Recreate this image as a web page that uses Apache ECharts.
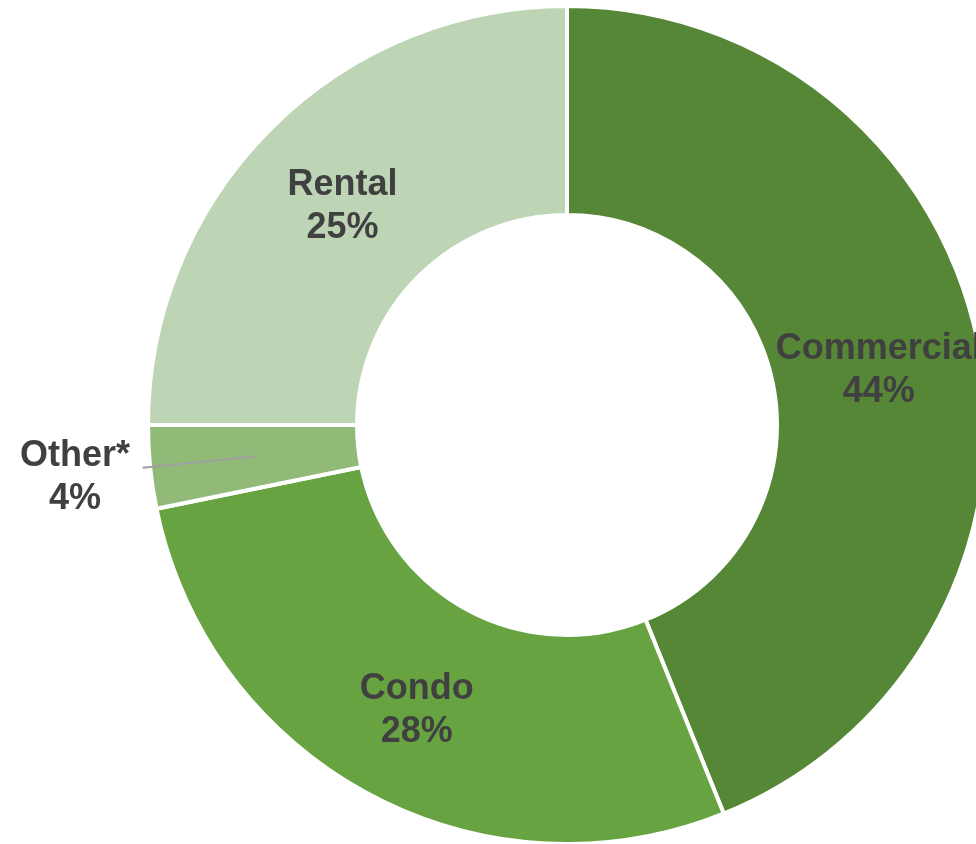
<!DOCTYPE html>
<html>
<head>
<meta charset="utf-8">
<script src="https://cdn.jsdelivr.net/npm/echarts@6/dist/echarts.min.js"></script>
<style>
html,body{margin:0;padding:0;background:#fff;}
#chart{width:976px;height:844px;}
</style>
</head>
<body>
<div id="chart"></div>
<script>
const categories = ['Commercial', 'Condo', 'Other*', 'Rental'];
const values = [43.9, 27.9, 3.2, 25.0];
const pctLabels = ['44%', '28%', '4%', '25%'];
const colors = ['#558737', '#68A342', '#91BA79', '#BDD5B4'];

const CX = 567, CY = 425, R_IN = 210, R_OUT = 419;
const R_MID = (R_IN + R_OUT) / 2;

const chart = echarts.init(document.getElementById('chart'), null, {renderer: 'canvas'});
const data = categories.map((c, i) => {
  const item = {name: c, value: values[i], itemStyle: {color: colors[i]}};
  if (i === 2) {
    item.label = {position: 'outside', align: 'center'};
  }
  return item;
});
// overlay (invisible) ring used only to draw the leader line for the small slice
const guideData = categories.map((c, i) => {
  const item = {name: c, value: values[i], label: {show: false}, labelLine: {show: false}};
  if (i === 2) {
    item.label = {show: true, position: 'outside', formatter: ' ', fontSize: 2};
    item.labelLine = {show: true, showAbove: true, length: 112, length2: 0,
      lineStyle: {color: '#A0A0A0', width: 2}};
  }
  return item;
});
chart.setOption({
  animation: false,
  backgroundColor: '#ffffff',
  series: [{
    type: 'pie',
    center: [CX, CY],
    radius: [R_IN, R_OUT],
    startAngle: 90,
    clockwise: true,
    avoidLabelOverlap: false,
    itemStyle: {borderColor: '#ffffff', borderWidth: 4},
    label: {
      show: true,
      position: 'inside',
      formatter: p => p.name + '\n' + pctLabels[p.dataIndex],
      fontFamily: '"Liberation Sans", Arial, sans-serif',
      fontWeight: 'bold',
      fontSize: 36,
      lineHeight: 43,
      color: '#404040',
      align: 'center'
    },
    labelLine: {show: false},
    labelLayout: function (p) {
      if (p.dataIndex === 2) {
        return {x: 75, y: 478, align: 'center', verticalAlign: 'middle'};
      }
      return {dy: 6};
    },
    emphasis: {disabled: true},
    data: data
  }, {
    type: 'pie',
    silent: true,
    z: 5,
    center: [CX, CY],
    radius: [R_IN, R_MID],
    startAngle: 90,
    clockwise: true,
    avoidLabelOverlap: false,
    itemStyle: {color: 'rgba(0,0,0,0)', borderWidth: 0},
    emphasis: {disabled: true},
    data: guideData
  }]
});
</script>
</body>
</html>
